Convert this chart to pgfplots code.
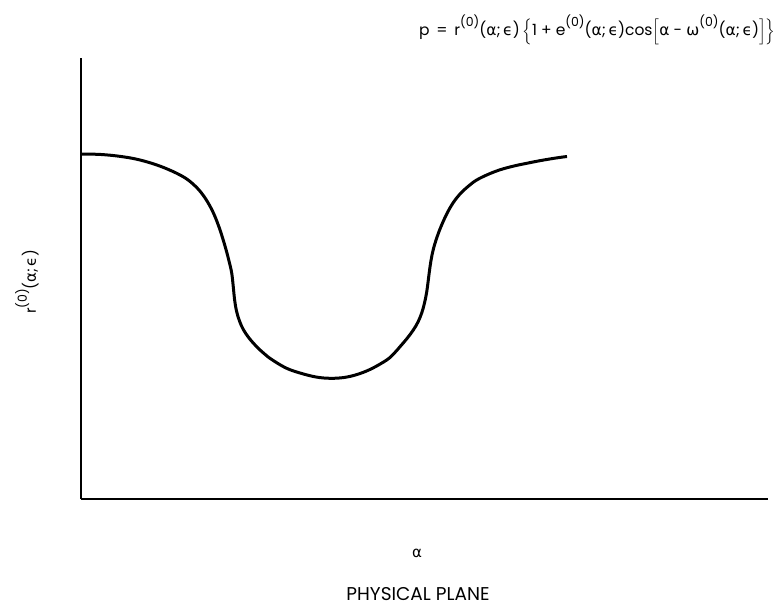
\documentclass[border=0pt]{standalone}
\usepackage{amsmath}
\usepackage{pgfplots}
\pgfplotsset{compat=1.18}
\usepackage{fontspec}
\setmainfont{Poppins}
\newfontfamily\gr{DejaVu Sans}

\newcommand{\zsup}[1]{\raisebox{0.6em}{\fontsize{12.5}{12.5}\selectfont(#1)}}
\newcommand{\alep}{({\gr α};\,{\gr ϵ})}

\begin{document}
\begin{tikzpicture}[x=1pt,y=1pt]
\begin{axis}[
  at={(0,0)}, anchor=origin,
  scale only axis,
  width=687pt, height=441pt,
  xmin=0, xmax=687, ymin=0, ymax=441,
  axis lines=left,
  axis line style={line width=2pt, -},
  xtick=\empty, ytick=\empty,
  clip=false,
]
\addplot[line width=3pt, smooth, tension=0.6] coordinates {
  (0,345) (20,344.5) (40,342.5) (59,339) (80,332.5) (100,323.5)
  (112,315) (122,304) (131,289) (138,272) (144,253) (148,238)
  (150.7,226) (152.3,212) (153.5,200) (155.5,188) (158.5,178)
  (162.3,169.5) (168,161) (175.7,152.3) (183,145.5) (190.7,139.5)
  (205,131) (219,126) (235,122) (249,120.7) (263,121.5) (276,124.5)
  (290,130) (305.7,139) (313,145.5) (319,152.3) (326,160.5)
  (332.3,169) (337,177) (340.7,186) (343.5,196) (345.7,207)
  (347.3,219) (349,232) (351,244) (354,255.7) (359,270) (365.7,285)
  (372,296) (379,305) (387,312.5) (395.7,319) (408,325) (420,329.5)
  (433,333) (445.7,335.7) (460,338.5) (475,341) (486,342.5)
};
\end{axis}
% descriptions, in the picture's own units
\node[font=\fontsize{15}{15}\selectfont\gr] at (336,-54) {α};
\node[font=\fontsize{18.5}{18.5}\selectfont] at (337,-95) {PHYSICAL PLANE};
\node[rotate=90, font=\fontsize{15}{15}\selectfont, anchor=center] at (-54,217)
  {r\zsup{0}\alep};
\node[anchor=east, font=\fontsize{15.5}{15.5}\selectfont] at (698,469)
  {p \,=\, r\zsup{0}\alep\,$\Big\{$1 + e\zsup{0}\alep cos$\Big[${\gr α} - {\gr ω}\zsup{0}\alep$\Big]\Big\}$};
\useasboundingbox (-81,-108) rectangle (702,499);
\end{tikzpicture}
\end{document}
